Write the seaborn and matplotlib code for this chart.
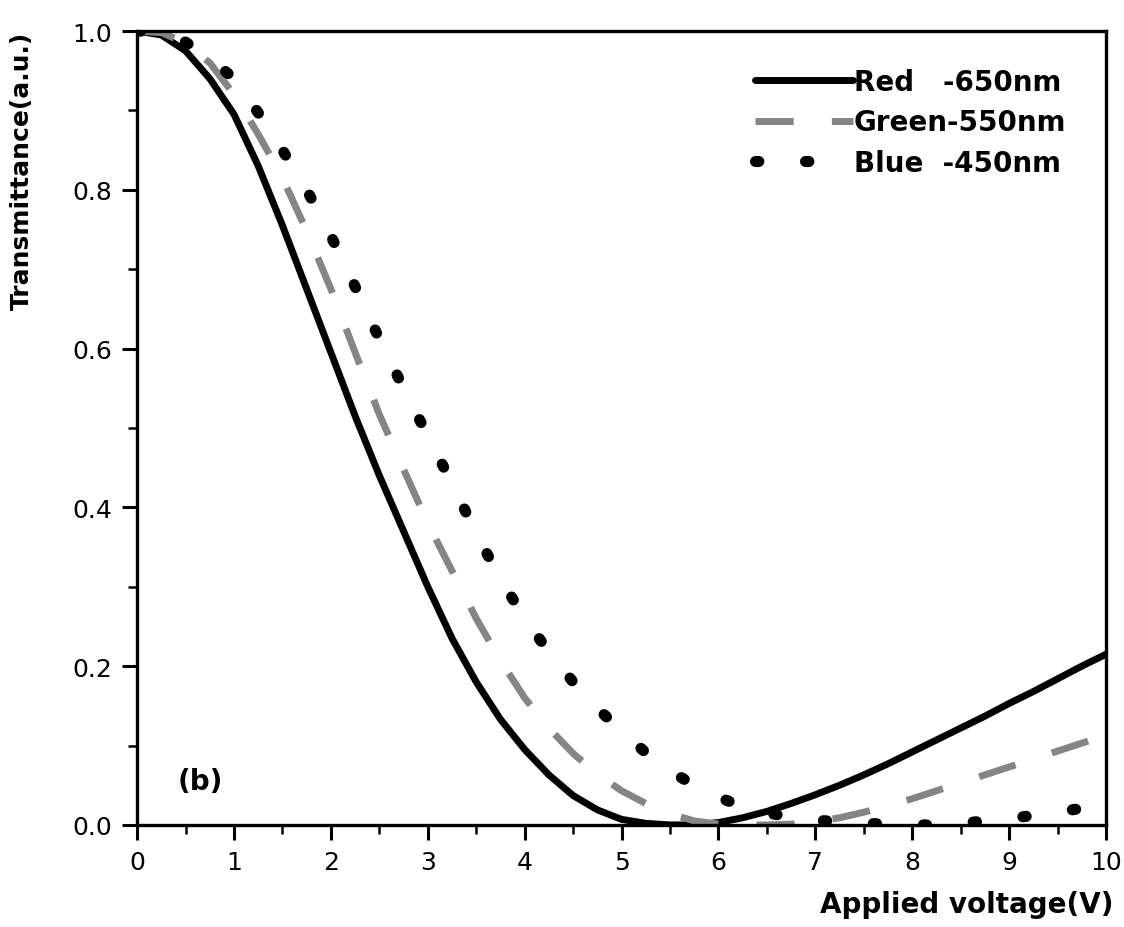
import pandas as pd
import matplotlib
matplotlib.use('Agg')
import matplotlib.pyplot as plt
import seaborn as sns
from matplotlib.ticker import MultipleLocator, FormatStrFormatter

# applied voltage (V)
voltage = [0, 0.25, 0.5, 0.75, 1.0, 1.25, 1.5, 1.75, 2.0, 2.25, 2.5, 2.75, 3.0, 3.25,
           3.5, 3.75, 4.0, 4.25, 4.5, 4.75, 5.0, 5.25, 5.5, 5.75, 6.0, 6.25, 6.5, 6.75,
           7.0, 7.25, 7.5, 7.75, 8.0, 8.25, 8.5, 8.75, 9.0, 9.25, 9.5, 9.75, 10.0]

# transmittance (a.u.)
red_650 = [1.0, 0.995, 0.975, 0.94, 0.895, 0.83, 0.755, 0.675, 0.595, 0.515, 0.44,
           0.37, 0.30, 0.235, 0.18, 0.133, 0.095, 0.063, 0.037, 0.019, 0.007, 0.002,
           0.0, 0.0, 0.003, 0.009, 0.017, 0.027, 0.038, 0.05, 0.063, 0.077, 0.092,
           0.107, 0.122, 0.137, 0.153, 0.168, 0.184, 0.2, 0.215]
green_550 = [1.0, 0.998, 0.985, 0.96, 0.92, 0.87, 0.815, 0.748, 0.675, 0.595, 0.517,
             0.448, 0.38, 0.32, 0.26, 0.207, 0.16, 0.122, 0.09, 0.064, 0.043, 0.027,
             0.014, 0.005, 0.001, 0.0, 0.0, 0.001, 0.004, 0.009, 0.016, 0.024, 0.033,
             0.043, 0.053, 0.063, 0.073, 0.083, 0.093, 0.103, 0.113]
blue_450 = [1.0, 0.998, 0.986, 0.966, 0.94, 0.897, 0.85, 0.80, 0.742, 0.678, 0.612,
            0.55, 0.49, 0.43, 0.367, 0.31, 0.26, 0.218, 0.18, 0.147, 0.118, 0.091,
            0.068, 0.05, 0.035, 0.023, 0.015, 0.01, 0.006, 0.004, 0.002, 0.001, 0.0,
            0.0, 0.002, 0.005, 0.008, 0.012, 0.016, 0.021, 0.027]

labels = ['Red   -650nm', 'Green-550nm', 'Blue  -450nm']

sns.set_theme(style='ticks')
plt.rcParams['font.family'] = ['DejaVu Sans']
plt.rcParams.update({'text.color': 'black', 'axes.labelcolor': 'black',
                     'xtick.color': 'black', 'ytick.color': 'black'})

fig, ax = plt.subplots(figsize=(11.24, 9.28), dpi=100)
fig.subplots_adjust(left=0.122, right=0.984, top=0.9655, bottom=0.110)

df = pd.DataFrame({'V': voltage, 'red': red_650, 'green': green_550, 'blue': blue_450})

sns.lineplot(data=df, x='V', y='red', ax=ax, color='black', linewidth=5,
             label=labels[0])
sns.lineplot(data=df, x='V', y='green', ax=ax, color='#858585', linewidth=5,
             label=labels[1], linestyle=(0, (5.5, 5.5)))
sns.lineplot(data=df, x='V', y='blue', ax=ax, color='black', linewidth=8,
             label=labels[2], linestyle=(0, (0.3, 4.2)), dash_capstyle='round')

ax.set_xlim(0, 10)
ax.set_ylim(0, 1.0)
ax.xaxis.set_major_locator(MultipleLocator(1))
ax.xaxis.set_minor_locator(MultipleLocator(0.5))
ax.yaxis.set_major_locator(MultipleLocator(0.2))
ax.yaxis.set_minor_locator(MultipleLocator(0.1))
ax.yaxis.set_major_formatter(FormatStrFormatter('%.1f'))

ax.tick_params(which='major', direction='out', length=11, width=2.2, pad=7,
               labelsize=18, colors='black')
ax.tick_params(which='minor', direction='out', length=6.5, width=1.8)
for s in ax.spines.values():
    s.set_linewidth(2.4)
    s.set_color('black')

ax.set_xlabel('Applied voltage(V)', fontsize=20, fontweight='bold', loc='right')
ax.set_ylabel('Transmittance(a.u.)', fontsize=18, fontweight='bold', loc='top')
ax.xaxis.set_label_coords(1.008, -0.082)
ax.yaxis.set_label_coords(-0.107, 1.0)

ax.text(0.42, 0.045, '(b)', fontsize=20, fontweight='bold', color='black')

ax.legend(loc='upper right', bbox_to_anchor=(0.985, 0.985), frameon=False,
          handlelength=3.5, handletextpad=0.05, labelspacing=0.45,
          prop={'weight': 'bold', 'size': 20})

fig.savefig('out.png', dpi=100)
